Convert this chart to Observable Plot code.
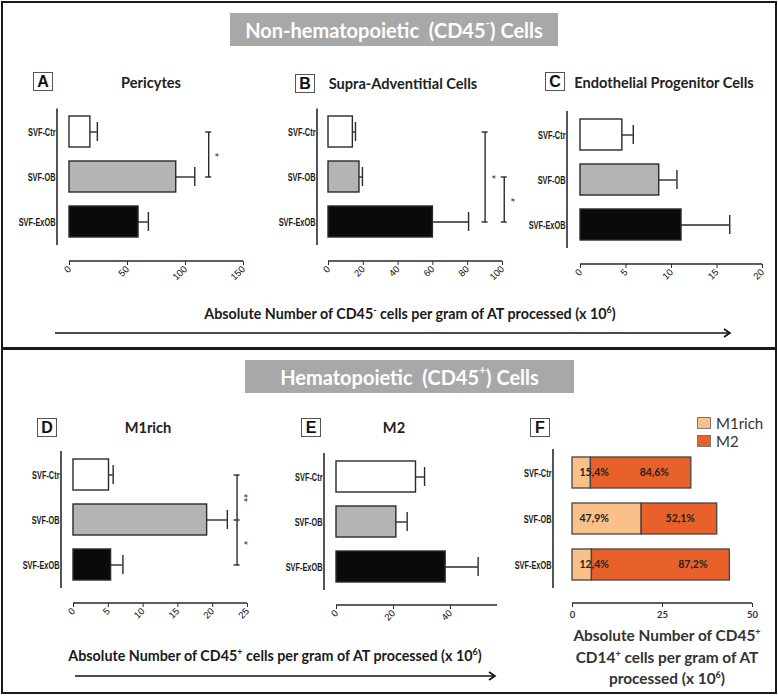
<!DOCTYPE html>
<html><head><meta charset="utf-8">
<script src="https://cdn.jsdelivr.net/npm/d3@7"></script>
<script src="https://cdn.jsdelivr.net/npm/@observablehq/plot@0.6"></script>
<style>
body{margin:0;background:#fff;}
#page{position:relative;width:778px;height:697px;overflow:hidden;font-family:Lato,"Open Sans",sans-serif;}
.frame{position:absolute;border:2.5px solid #1a1a1a;box-sizing:border-box;}
.banner{position:absolute;background:#a8a8a8;color:#fff;font-weight:700;font-size:20px;display:flex;align-items:center;justify-content:center;white-space:nowrap;}
.banner sup{font-size:12px;vertical-align:0;position:relative;top:-7px;}
.letter{position:absolute;width:20px;height:19px;border:1px solid #555;box-sizing:border-box;font:bold 16px "Liberation Sans",Arial,sans-serif;display:flex;align-items:center;justify-content:center;color:#111;background:#fff;}
.ptitle{position:absolute;font-weight:700;font-size:14.6px;color:#222;transform:translate(-50%,-50%);white-space:nowrap;}
.caption{position:absolute;font-weight:700;color:#1a1a1a;transform:translate(-50%,-50%);white-space:nowrap;text-align:center;}
.caption sup{font-size:9px;vertical-align:0;position:relative;top:-6px;}
.panel{position:absolute;}
.panel svg{overflow:visible;}
.leg{position:absolute;font-size:15px;color:#333;display:flex;align-items:center;}
.leg span.sw{display:inline-block;width:12px;height:10px;border:1px solid #777;margin-right:5px;}
</style>
</head><body>
<div id="page"></div>
<script>
// ---------- data ----------
const groups = ["SVF-Ctr", "SVF-OB", "SVF-ExOB"];
const barFills = ["#ffffff", "#b4b4b4", "#0a0a0a"];

const pericytesMean = [18, 92, 59.5];
const pericytesSem = [6, 16, 8.5];
const pericytesTicks = [0, 50, 100, 150];

const supraMean = [14, 17.8, 60];
const supraSem = [1.5, 1.7, 20.5];
const supraTicks = [0, 20, 40, 60, 80, 100];

const epcMean = [4.6, 8.65, 11.1];
const epcSem = [1.2, 1.95, 5.3];
const epcTicks = [0, 5, 10, 15, 20];

const m1richMean = [5.1, 19.2, 5.4];
const m1richSem = [0.6, 2.9, 1.7];
const m1richTicks = [0, 5, 10, 15, 20, 25];

const m2Mean = [27.9, 21.0, 38.3];
const m2Sem = [3.0, 3.8, 11.4];
const m2Ticks = [0, 20, 40];

const m1Pct = ["15,4%", "47,9%", "12,4%"];
const m2Pct = ["84,6%", "52,1%", "87,2%"];
const fTicks = [0, 25, 50];
const fTypes = ["M1rich", "M2"];
const fColors = ["#f9c189", "#e8612a"];

// significance brackets (x in data units)
const sigA = [{at: 120, from: "SVF-Ctr", to: "SVF-OB"}];
const starsA = [{at: 120, y: "SVF-OB", label: "*", between: true}];
const sigB = [{at: 90, from: "SVF-Ctr", to: "SVF-ExOB"}, {at: 101, from: "SVF-OB", to: "SVF-ExOB"}];
const starsB = [{at: 90, y: "SVF-OB", label: "*", between: false}, {at: 101, y: "SVF-ExOB", label: "*", between: true}];
const sigD = [{at: 23.5, from: "SVF-Ctr", to: "SVF-ExOB"}];
const capsD = ["SVF-Ctr", "SVF-OB", "SVF-ExOB"];
const starsD = [{at: 23.5, y: "SVF-OB", label: "**", between: true}, {at: 23.5, y: "SVF-ExOB", label: "*", between: true}];

// ---------- page furniture ----------
const page = document.getElementById("page");
function el(tag, cls, css, html) {
  const e = document.createElement(tag);
  if (cls) e.className = cls;
  Object.assign(e.style, css);
  if (html != null) e.innerHTML = html;
  page.appendChild(e);
  return e;
}
el("div", "frame", {left: "1px", top: "1px", width: "776px", height: "349px"});
el("div", "frame", {left: "1px", top: "347px", width: "776px", height: "347px"});
el("div", "banner", {left: "230px", top: "13px", width: "328px", height: "33px"}, "Non-hematopoietic&nbsp;&nbsp;(CD45<sup>-</sup>) Cells");
el("div", "banner", {left: "245px", top: "360px", width: "329px", height: "33px"}, "Hematopoietic&nbsp;&nbsp;(CD45<sup>+</sup>) Cells");

const letters = [["A", 33, 72], ["B", 295, 74], ["C", 545, 72], ["D", 37, 418], ["E", 301, 418], ["F", 530, 418]];
for (const [t, x, y] of letters) el("div", "letter", {left: x + "px", top: y + "px"}, t);
const titles = [["Pericytes", 151, 82], ["Supra-Adventitial Cells", 403, 83], ["Endothelial Progenitor Cells", 664, 82], ["M1rich", 148, 427], ["M2", 394, 427]];
for (const [t, x, y] of titles) el("div", "ptitle", {left: x + "px", top: y + "px"}, t);

el("div", "caption", {left: "410px", top: "313px", fontSize: "14.3px"}, "Absolute Number of CD45<sup>-</sup> cells per gram of AT processed (x 10<sup>6</sup>)");
el("div", "caption", {left: "275px", top: "655px", fontSize: "14.3px"}, "Absolute Number of CD45<sup>+</sup> cells per gram of AT processed (x 10<sup>6</sup>)");
el("div", "caption", {left: "667px", top: "658px", fontSize: "15.4px", lineHeight: "18.5px", color: "#333"}, "Absolute Number of CD45<sup>+</sup><br>CD14<sup>+</sup> cells per gram of AT<br>processed (x 10<sup>6</sup>)");

// arrows
const arrowSvg = el("div", null, {position: "absolute", left: "0", top: "0", width: "778px", height: "697px", pointerEvents: "none"});
arrowSvg.innerHTML = `<svg width="778" height="697" style="position:absolute;left:0;top:0">
 <g stroke="#111" stroke-width="1.6" fill="none">
  <line x1="55" y1="333" x2="729" y2="333"/><polyline points="724,329 730,333 724,337"/>
  <line x1="75" y1="676" x2="494" y2="676"/><polyline points="489,672 495,676 489,680"/>
 </g></svg>`;

// legend F
el("div", "leg", {left: "697px", top: "414px"}, `<span class="sw" style="background:${fColors[0]}"></span>M1rich`);
el("div", "leg", {left: "697px", top: "432px"}, `<span class="sw" style="background:${fColors[1]}"></span>M2`);

// ---------- charts ----------
const INK = "#2a2a2a";
const catFont = "'Liberation Sans',Arial,sans-serif";
const numFont = "'Liberation Sans',Arial,sans-serif";

const layouts = {
  A: {left: 0, top: 95, width: 258, height: 200, axisX: 57, x0: 69, x1: 243, bandTop: 108.5, bandBottom: 245, axisY: 261},
  B: {left: 258, top: 95, width: 262, height: 200, axisX: 317, x0: 328, x1: 502, bandTop: 108.5, bandBottom: 245, axisY: 261},
  C: {left: 510, top: 95, width: 268, height: 200, axisX: 567, x0: 580, x1: 762, bandTop: 111, bandBottom: 248, axisY: 264},
  D: {left: 0, top: 440, width: 258, height: 190, axisX: 61, x0: 73, x1: 247, bandTop: 451, bandBottom: 588, axisY: 603},
  E: {left: 258, top: 440, width: 262, height: 190, axisX: 324, x0: 336, x1: 497, bandTop: 453, bandBottom: 590, axisY: 605},
  F: {left: 510, top: 440, width: 268, height: 190, axisX: 553, x0: 572, x1: 752, bandTop: 449, bandBottom: 588, axisY: 603}
};

function axisLines(L, domain) {
  return (index, scales, values, dims) => {
    const ns = "http://www.w3.org/2000/svg";
    const g = document.createElementNS(ns, "g");
    const mk = (x1, y1, x2, y2, stroke, w) => {
      const l = document.createElementNS(ns, "line");
      l.setAttribute("x1", x1); l.setAttribute("y1", y1); l.setAttribute("x2", x2); l.setAttribute("y2", y2);
      l.setAttribute("stroke", stroke); l.setAttribute("stroke-width", w);
      g.appendChild(l);
    };
    const yb = dims.height - dims.marginBottom;
    mk(dims.marginLeft, dims.marginTop, dims.marginLeft, yb - (L.axisY - L.bandBottom), "#555", 2);
    mk(scales.x(domain[0]), yb, scales.x(domain[1]), yb, INK, 1.4);
    return g;
  };
}

function frameOpts(L, domain) {
  return {
    width: L.width, height: L.height,
    marginLeft: L.axisX - L.left, marginRight: L.left + L.width - L.x1,
    marginTop: L.bandTop - L.top, marginBottom: L.top + L.height - L.axisY,
    style: {fontFamily: numFont, fontSize: "9px", color: INK, background: "none", overflow: "visible"},
    x: {domain, insetLeft: L.x0 - L.axisX, label: null},
    y: {domain: groups, insetBottom: L.axisY - L.bandBottom, paddingInner: 0.32, paddingOuter: 0.16, label: null}
  };
}

// condensed look for the category labels (tall, narrow glyphs as in the original)
function squeeze(plot, ratio) {
  plot.querySelectorAll('g[aria-label="y-axis tick label"] text').forEach(t => {
    t.style.fontSize = "11.5px";
    t.style.fontWeight = "700";
    t.style.fontFamily = catFont;
    const w = t.getComputedTextLength();
    if (w > 0) {
      t.setAttribute("textLength", (w * ratio).toFixed(1));
      t.setAttribute("lengthAdjust", "spacingAndGlyphs");
    }
  });
}

function sigMarks(brackets, caps, stars) {
  const marks = [];
  marks.push(Plot.link(brackets, {x1: "at", x2: "at", y1: "from", y2: "to", stroke: INK, strokeWidth: 1.4}));
  const capData = caps ? caps.map(c => ({at: brackets[0].at, y: c})) : brackets.flatMap(b => [{at: b.at, y: b.from}, {at: b.at, y: b.to}]);
  marks.push(Plot.ruleY(capData, {y: "y", x1: "at", x2: "at", insetLeft: -3, insetRight: -3, stroke: INK, strokeWidth: 1.4}));
  marks.push(Plot.text(stars.filter(s => s.between), {x: "at", y: "y", text: "label", dy: -22, dx: 6, rotate: 90, fontSize: 10, fill: INK}));
  marks.push(Plot.text(stars.filter(s => !s.between), {x: "at", y: "y", text: "label", dx: 6, rotate: 90, fontSize: 10, fill: INK}));
  return marks;
}

function mount(L, plot) {
  const wrap = el("div", "panel", {left: L.left + "px", top: L.top + "px"});
  wrap.appendChild(plot);
  squeeze(plot, 0.64);
}

const yAxisOpts = {tickSize: 0, tickPadding: 2, fontSize: 11.5, fontWeight: 700, fontFamily: catFont, label: null, fill: "#1a1a1a"};

function barPanel(key, mean, sem, domain, ticks, sig) {
  const L = layouts[key];
  const data = groups.map((g, i) => ({group: g, mean: mean[i], hi: mean[i] + sem[i]}));
  const plot = Plot.plot({
    ...frameOpts(L, domain),
    color: {domain: groups, range: barFills},
    marks: [
      axisLines(L, domain),
      Plot.axisY(yAxisOpts),
      Plot.axisX({ticks, tickSize: 4, tickPadding: 2, tickRotate: -45, fontSize: 9.5, label: null, fill: "#111", stroke: INK}),
      Plot.ruleY(data, {y: "group", x1: "mean", x2: "hi", stroke: INK, strokeWidth: 1.4}),
      Plot.tickX(data, {y: "group", x: "hi", insetTop: 6, insetBottom: 6, stroke: INK, strokeWidth: 1.4}),
      Plot.barX(data, {y: "group", x: "mean", fill: "group", stroke: INK, strokeWidth: 1.4}),
      ...(sig ? sigMarks(sig.brackets, sig.caps, sig.stars) : [])
    ]
  });
  mount(L, plot);
}

barPanel("A", pericytesMean, pericytesSem, [0, 150], pericytesTicks, {brackets: sigA, stars: starsA});
barPanel("B", supraMean, supraSem, [0, 100], supraTicks, {brackets: sigB, stars: starsB});
barPanel("C", epcMean, epcSem, [0, 20], epcTicks, null);
barPanel("D", m1richMean, m1richSem, [0, 25], m1richTicks, {brackets: sigD, caps: capsD, stars: starsD});
barPanel("E", m2Mean, m2Sem, [0, 56.5], m2Ticks, null);

// Panel F: stacked composition from D and E means
{
  const L = layouts.F;
  const stacked = groups.flatMap((g, i) => [
    {group: g, type: fTypes[0], value: m1richMean[i]},
    {group: g, type: fTypes[1], value: m2Mean[i]}
  ]);
  const totals = groups.map((g, i) => ({group: g, total: m1richMean[i] + m2Mean[i], m1: m1Pct[i], m2: m2Pct[i]}));
  const plot = Plot.plot({
    ...frameOpts(L, [0, 50]),
    color: {domain: fTypes, range: fColors},
    marks: [
      axisLines(L, [0, 50]),
      Plot.axisY(yAxisOpts),
      Plot.axisX({ticks: fTicks, tickSize: 4, tickPadding: 4, fontSize: 9.5, fontWeight: 700, fontFamily: "Lato,sans-serif", label: null, fill: "#333", stroke: INK}),
      Plot.barX(stacked, {y: "group", x: "value", fill: "type", stroke: "#444", strokeWidth: 1.3}),
      Plot.text(totals, {y: "group", x: 0, text: "m1", dx: 7, textAnchor: "start", fontSize: 10.5, fontWeight: 700, fontFamily: "Lato,sans-serif", fill: "#222"}),
      Plot.text(totals, {y: "group", x: "total", text: "m2", dx: -37, textAnchor: "middle", fontSize: 10.5, fontWeight: 700, fontFamily: "Lato,sans-serif", fill: "#222"})
    ]
  });
  mount(L, plot);
}
</script>
</body></html>
